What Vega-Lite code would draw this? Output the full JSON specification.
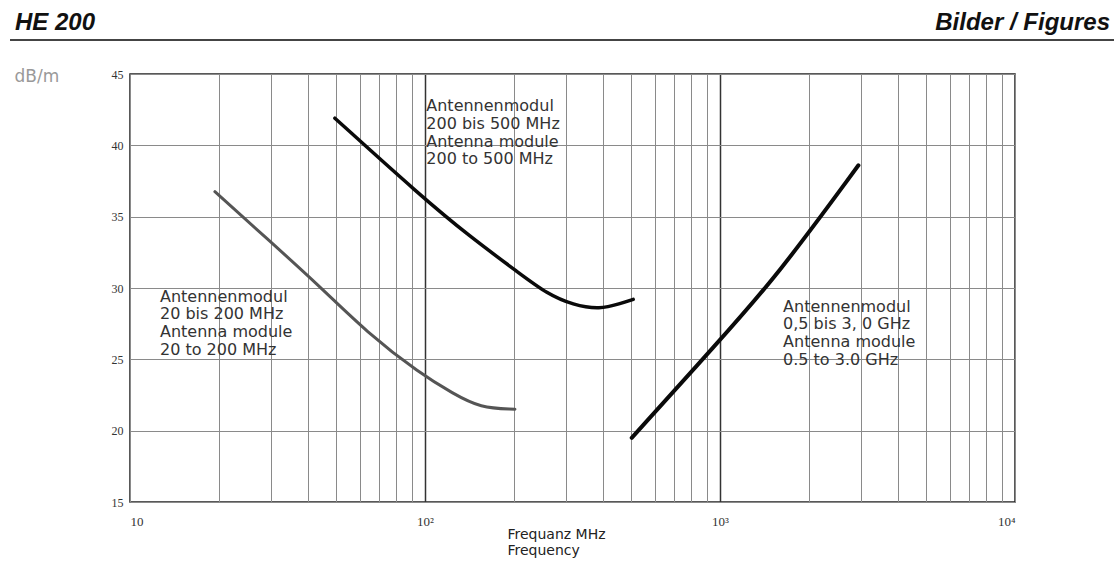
{
  "$schema": "https://vega.github.io/schema/vega-lite/v6.json",
  "width": 885,
  "height": 428,
  "autosize": {"type": "none"},
  "padding": {"left": 130, "top": 74, "right": 99, "bottom": 61},
  "background": "white",
  "config": {
    "view": {"stroke": "#222", "strokeWidth": 1.5},
    "font": "Liberation Sans"
  },
  "datasets": {
    "curves": [
      {"series": "a", "f": 19.4, "v": 36.75},
      {"series": "a", "f": 29.0, "v": 33.5},
      {"series": "a", "f": 44.1, "v": 30.1},
      {"series": "a", "f": 63.4, "v": 26.9},
      {"series": "a", "f": 96.2, "v": 24.0},
      {"series": "a", "f": 124.7, "v": 22.6},
      {"series": "a", "f": 153.5, "v": 21.6},
      {"series": "a", "f": 201.8, "v": 21.5},
      {"series": "b", "f": 49.5, "v": 41.9},
      {"series": "b", "f": 96.2, "v": 36.5},
      {"series": "b", "f": 142, "v": 33.6},
      {"series": "b", "f": 210, "v": 31.0},
      {"series": "b", "f": 259, "v": 29.6},
      {"series": "b", "f": 318, "v": 28.8},
      {"series": "b", "f": 392, "v": 28.5},
      {"series": "b", "f": 458, "v": 28.9},
      {"series": "b", "f": 508, "v": 29.2},
      {"series": "c", "f": 502, "v": 19.5},
      {"series": "c", "f": 975, "v": 26.1},
      {"series": "c", "f": 1556, "v": 30.8},
      {"series": "c", "f": 2946, "v": 38.6}
    ],
    "labels": [
      {"f": 12.64, "v": 29.95, "t": "Antennenmodul\n20 bis 200 MHz\nAntenna module\n20 to 200 MHz"},
      {"f": 101, "v": 43.3, "t": "Antennenmodul\n200 bis 500 MHz\nAntenna module\n200 to 500 MHz"},
      {"f": 1636, "v": 29.25, "t": "Antennenmodul\n0,5 bis 3, 0 GHz\nAntenna module\n0.5 to 3.0 GHz"}
    ],
    "header": [
      {"f": 4.076, "v": 48.55, "t": "HE 200", "side": "left"},
      {"f": 20990, "v": 48.55, "t": "Bilder / Figures", "side": "right"}
    ]
  },
  "layer": [
    {
      "data": {"name": "curves"},
      "mark": {"type": "line", "interpolate": "basis", "strokeCap": "round"},
      "encoding": {
        "x": {
          "field": "f",
          "type": "quantitative",
          "scale": {"type": "log", "domain": [10, 10000], "nice": false},
          "axis": {
            "values": [10, 20, 30, 40, 50, 60, 70, 80, 90, 100, 200, 300, 400, 500, 600, 700, 800, 900, 1000, 2000, 3000, 4000, 5000, 6000, 7000, 8000, 9000, 10000],
            "labelExpr": "datum.value == 10 ? '10' : datum.value == 100 ? '10²' : datum.value == 1000 ? '10³' : datum.value == 10000 ? '10⁴' : ''",
            "labelFlush": true,
            "labelFont": "Liberation Serif",
            "labelFontSize": 13,
            "labelColor": "#333",
            "labelPadding": 13,
            "ticks": false,
            "domain": false,
            "grid": true,
            "gridColor": {"condition": {"test": "datum.value == 100 || datum.value == 1000", "value": "#333"}, "value": "#8a8a8a"},
            "gridWidth": {"condition": {"test": "datum.value == 100 || datum.value == 1000", "value": 1.5}, "value": 1},
            "title": ["Frequanz MHz", "Frequency"],
            "titleFont": "DejaVu Sans",
            "titleFontSize": 14,
            "titleFontWeight": "normal",
            "titleColor": "#222",
            "titleAlign": "left",
            "titleAnchor": "start",
            "titleBaseline": "top",
            "titleX": 377,
            "titleY": 25,
            "titleLineHeight": 16
          }
        },
        "y": {
          "field": "v",
          "type": "quantitative",
          "scale": {"domain": [15, 45], "nice": false, "zero": false},
          "axis": {
            "values": [15, 20, 25, 30, 35, 40, 45],
            "labelFont": "Liberation Serif",
            "labelFontSize": 12,
            "labelColor": "#333",
            "labelPadding": 7,
            "ticks": false,
            "domain": false,
            "grid": true,
            "gridColor": "#8a8a8a",
            "gridWidth": 1,
            "title": "dB/m",
            "titleAngle": 0,
            "titleFont": "DejaVu Sans",
            "titleFontSize": 17,
            "titleFontWeight": "normal",
            "titleColor": "#999",
            "titleAlign": "left",
            "titleBaseline": "middle",
            "titleX": -116,
            "titleY": 2
          }
        },
        "detail": {"field": "series"},
        "color": {"field": "series", "type": "nominal", "scale": {"domain": ["a", "b", "c"], "range": ["#555555", "#0a0a0a", "#0a0a0a"]}, "legend": null},
        "strokeWidth": {"field": "series", "type": "nominal", "scale": {"domain": ["a", "b", "c"], "range": [3, 4, 4]}, "legend": null}
      }
    },
    {
      "data": {"name": "labels"},
      "mark": {"type": "text", "align": "left", "baseline": "top", "lineBreak": "\n", "lineHeight": 17.7, "font": "DejaVu Sans", "fontSize": 16, "color": "#333"},
      "encoding": {
        "x": {"field": "f", "type": "quantitative"},
        "y": {"field": "v", "type": "quantitative"},
        "text": {"field": "t"}
      }
    },
    {
      "data": {"values": [{}]},
      "mark": {"type": "rule", "color": "#444", "strokeWidth": 2},
      "encoding": {
        "x": {"datum": 3.92},
        "x2": {"datum": 21700},
        "y": {"datum": 47.38}
      }
    },
    {
      "data": {"name": "header"},
      "transform": [{"filter": "datum.side == 'left'"}],
      "mark": {"type": "text", "align": "left", "baseline": "middle", "font": "Liberation Sans", "fontSize": 24, "fontStyle": "italic", "fontWeight": "bold", "color": "#111"},
      "encoding": {
        "x": {"field": "f", "type": "quantitative"},
        "y": {"field": "v", "type": "quantitative"},
        "text": {"field": "t"}
      }
    },
    {
      "data": {"name": "header"},
      "transform": [{"filter": "datum.side == 'right'"}],
      "mark": {"type": "text", "align": "right", "baseline": "middle", "font": "Liberation Sans", "fontSize": 24, "fontStyle": "italic", "fontWeight": "bold", "color": "#111"},
      "encoding": {
        "x": {"field": "f", "type": "quantitative"},
        "y": {"field": "v", "type": "quantitative"},
        "text": {"field": "t"}
      }
    }
  ]
}
